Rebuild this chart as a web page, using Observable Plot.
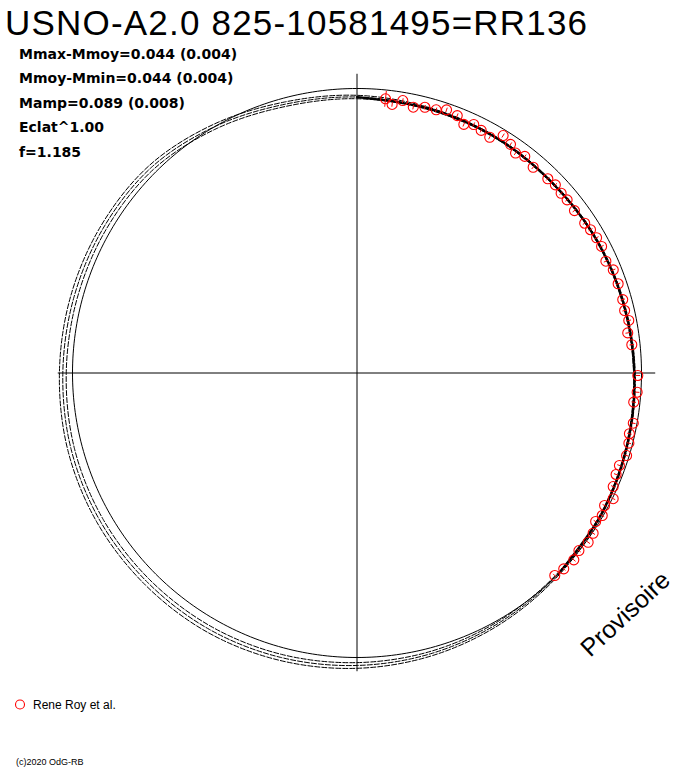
<!DOCTYPE html>
<html>
<head>
<meta charset="utf-8">
<script src="https://cdn.jsdelivr.net/npm/d3@7"></script>
<script src="https://cdn.jsdelivr.net/npm/@observablehq/plot@0.6"></script>
<style>
  html, body { margin: 0; padding: 0; background: #fff; }
  #chart { position: absolute; left: 0; top: 0; }
</style>
</head>
<body>
<div id="chart"></div>
<script>
// ---------------- data ----------------
const title = "USNO-A2.0 825-10581495=RR136";
const statLines = ["Mmax-Mmoy=0.044 (0.004)", "Mmoy-Mmin=0.044 (0.004)", "Mamp=0.089 (0.008)", "Eclat^1.00", "f=1.185"];
const legendLabel = "Rene Roy et al.";
const credit = "(c)2020 OdG-RB";
const watermark = "Provisoire";

// observations: phase (fraction of turn, clockwise from top) and relative brightness
const obsPhase = [0.0165,0.0207,0.0265,0.0332,0.0398,0.0465,0.0522,0.0591,0.0646,0.0699,
  0.0753,0.0816,0.0878,0.0941,0.0994,0.1049,0.1127,0.1236,0.1292,0.1351,
  0.1403,0.1479,0.1574,0.1624,0.1682,0.1740,0.1828,0.1891,0.1976,0.2071,
  0.2135,0.2196,0.2266,0.2337,0.2514,0.2609,0.2667,0.2786,0.2849,0.2902,
  0.2973,0.3039,0.3094,0.3164,0.3226,0.3282,0.3338,0.3386,0.3449,0.3506,
  0.3574,0.3632,0.3707,0.3769];
const obsFlux = [0.969,0.952,0.971,0.955,0.964,0.966,0.977,0.971,0.951,0.965,
  0.958,0.951,0.980,0.968,0.953,0.963,0.952,0.957,0.961,0.956,
  0.957,0.954,0.958,0.963,0.967,0.968,0.959,0.971,0.970,0.969,
  0.966,0.973,0.962,0.971,0.987,0.987,0.978,0.987,0.981,0.987,
  0.991,0.978,0.978,0.985,1.003,0.987,0.997,0.988,1.003,1.007,
  0.999,1.006,1.001,0.995];
const obsErr = [0.028,0.008,0.008,0.008,0.008,0.008,0.008,0.008,0.008,0.008,
  0.008,0.008,0.008,0.008,0.008,0.008,0.008,0.008,0.008,0.008,
  0.008,0.008,0.008,0.008,0.008,0.008,0.008,0.008,0.008,0.008,
  0.008,0.008,0.008,0.008,0.008,0.008,0.008,0.008,0.008,0.008,
  0.008,0.008,0.008,0.008,0.008,0.008,0.008,0.008,0.008,0.008,
  0.008,0.008,0.008,0.008];

// fitted curve read every 15 degrees, with its uncertainty spread
const fitPhase = [0,0.0417,0.0833,0.125,0.1667,0.2083,0.25,0.2917,0.3333,0.375,0.4167,0.4583,
  0.5,0.5417,0.5833,0.625,0.6667,0.7083,0.75,0.7917,0.8333,0.875,0.9167,0.9583];
const fitFlux = [0.970,0.963,0.961,0.958,0.963,0.968,0.975,0.983,0.992,1.000,1.010,1.020,
  1.028,1.035,1.040,1.041,1.042,1.040,1.034,1.030,1.027,1.022,1.000,0.978];
const fitSpread = [0.006,0.004,0.003,0.003,0.003,0.003,0.003,0.003,0.003,0.004,0.006,0.008,
  0.010,0.011,0.012,0.012,0.012,0.012,0.012,0.012,0.011,0.010,0.009,0.008];
const dataPhaseEnd = 0.38;   // extent of the observed phases
const axisExtent = 1.05;

// ---------------- layout ----------------
const W = 688, H = 768, CX = 356.5, CY = 372.5, K = 284.5;

const px = (p, r) => r * Math.sin(2 * Math.PI * p);
const py = (p, r) => r * Math.cos(2 * Math.PI * p);

const obs = obsPhase.map((p, i) => ({p, f: obsFlux[i], e: obsErr[i]}));
const fitRows = [];
[-1, 0, 1].forEach(s => fitPhase.forEach((p, i) =>
  fitRows.push({s, p, f: fitFlux[i] + s * fitSpread[i]})));
const solidRows = fitPhase.map((p, i) => ({p, f: fitFlux[i]})).filter(d => d.p <= dataPhaseEnd);
const refCircle = d3.range(0, 360).map(a => ({p: a / 360, f: 1}));

const chart = Plot.plot({
  width: W, height: H, margin: 0,
  style: {background: "white", overflow: "visible"},
  x: {domain: [-CX / K, (W - CX) / K], range: [0, W], axis: null},
  y: {domain: [(CY - H) / K, CY / K], range: [H, 0], axis: null},
  marks: [
    Plot.ruleY([0], {x1: -axisExtent, x2: axisExtent, stroke: "black", strokeWidth: 1}),
    Plot.ruleX([0], {y1: -axisExtent, y2: axisExtent, stroke: "black", strokeWidth: 1}),
    Plot.line(refCircle, {x: d => px(d.p, d.f), y: d => py(d.p, d.f), curve: "linear-closed", stroke: "black", strokeWidth: 1}),
    Plot.line(fitRows, {x: d => px(d.p, d.f), y: d => py(d.p, d.f), z: "s", curve: "catmull-rom-closed",
      stroke: "black", strokeWidth: 1, strokeDasharray: "5,2"}),
    Plot.line(solidRows, {x: d => px(d.p, d.f), y: d => py(d.p, d.f), curve: "catmull-rom",
      stroke: "black", strokeWidth: 2.2}),
    Plot.link(obs, {x1: d => px(d.p, d.f - d.e), y1: d => py(d.p, d.f - d.e),
      x2: d => px(d.p, d.f + d.e), y2: d => py(d.p, d.f + d.e), stroke: "red", strokeWidth: 1}),
    Plot.dot(obs, {x: d => px(d.p, d.f), y: d => py(d.p, d.f), r: 5, stroke: "red", fill: "none", strokeWidth: 1.1})
  ]
});
document.getElementById("chart").appendChild(chart);

// ---------------- texts ----------------
const svg = d3.select(chart);
const g = svg.append("g").attr("fill", "black").attr("text-anchor", "start");
g.append("text").attr("x", 5).attr("y", 35)
  .attr("font-family", "Liberation Sans, Arial, sans-serif").attr("font-size", 35)
  .attr("letter-spacing", 1.2).text(title);
const baselines = [58.5, 83, 107.5, 132, 156.5];
statLines.forEach((t, i) => g.append("text").attr("x", 19).attr("y", baselines[i])
  .attr("font-family", "DejaVu Sans, sans-serif").attr("font-weight", "bold").attr("font-size", 14).text(t));
svg.append("circle").attr("cx", 20).attr("cy", 704.5).attr("r", 4.5).attr("fill", "none").attr("stroke", "red").attr("stroke-width", 1.1);
g.append("text").attr("x", 33).attr("y", 709)
  .attr("font-family", "Liberation Sans, Arial, sans-serif").attr("font-size", 12).text(legendLabel);
g.append("text").attr("x", 16).attr("y", 765)
  .attr("font-family", "Liberation Sans, Arial, sans-serif").attr("font-size", 9).text(credit);
g.append("text").attr("transform", "translate(631,620) rotate(-43)").attr("text-anchor", "middle")
  .attr("font-family", "Liberation Sans, Arial, sans-serif").attr("font-size", 25).text(watermark);
</script>
</body>
</html>
